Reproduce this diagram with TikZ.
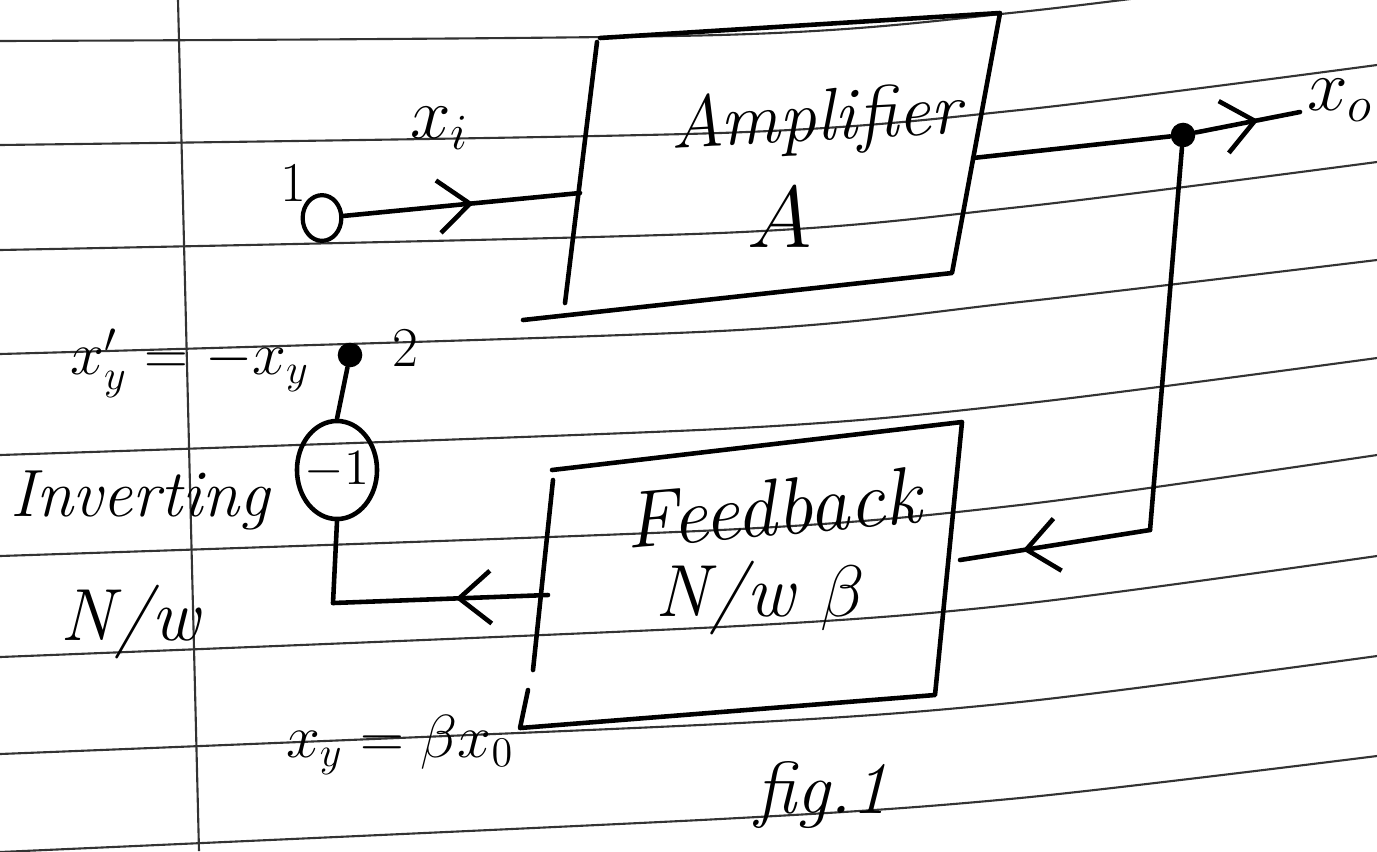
\documentclass[tikz,border=0pt]{standalone}
\usepackage{fontspec}
\usetikzlibrary{arrows.meta,decorations.markings,shapes.geometric}
\tikzset{
  rule/.style={line width=0.6pt, black!80},
  wire/.style={line width=1.3pt, line cap=round, line join=round},
  midarrow/.style={postaction={decorate}, decoration={markings,
      mark=at position #1 with {\arrow[line width=1.3pt]{Straight Barb[length=9pt,width=15pt]}}}},
  hand/.style={font=\fontsize{21}{25}\selectfont\itshape, inner sep=0pt},
  handm/.style={font=\fontsize{21}{25}\selectfont, inner sep=0pt},
  dotpt/.style={circle, fill=black, inner sep=0pt, minimum size=7pt},
}
\begin{document}
\begin{tikzpicture}[x=0.01cm,y=-0.01cm]
\useasboundingbox (0,0) rectangle (1377,851);
\clip (0,0) rectangle (1377,851);
\fill[white] (0,0) rectangle (1377,851);
% ruled notebook lines
\foreach \a/\b/\c/\d in {41/35/12/-33, 145/133/110/65, 250/233/207/162, 354/331/302/260,
  455/429/404/358, 556/530/505/455, 657/627/604/556, 754/724/702/656, 852/819/798/756}
  \draw[rule] plot[smooth] coordinates {(0,\a) (720,\b) (1020,\c) (1377,\d)};
% margin line
\draw[rule] (178,0) -- (199,851);

% Amplifier box
\coordinate (a1) at (600,38);
\coordinate (a2) at (1000,13);
\coordinate (a3) at (952,273);
\coordinate (a4) at (523,320);
\coordinate (al1) at (597,42);
\coordinate (al2) at (565,303);
\draw[wire] (a1) -- (a2) -- (a3) -- (a4);
\draw[wire] (al1) -- (al2);
\node[hand, rotate=3] (amp) at (816,122) {Amplifier};
\node[handm] (ampA) at (780,218) {\fontsize{24}{28}\selectfont$A$};

% input
\node[draw, ellipse, line width=1.2pt, minimum width=11pt, minimum height=13pt, inner sep=0pt] (in) at (322,218) {};
\coordinate (ampin) at (580,193);
\draw[wire, midarrow=0.55] (in) -- (ampin);
\node[handm] (lab1) at (293,183) {\fontsize{16}{18}\selectfont 1};
\node[handm] (xi) at (440,128) {$x_i$};

% output
\coordinate (ampout) at (973,158);
\node[dotpt] (tap) at (1183,135) {};
\coordinate (xoend) at (1300,112);
\draw[wire] (ampout) -- (tap);
\draw[wire, midarrow=0.6] (tap) -- (xoend);
\node[handm, anchor=east] (xo) at (1374,100) {$x_o$};

% feedback path
\coordinate (corner) at (1150,530);
\coordinate (fbin) at (960,560);
\draw[wire] (tap) -- (corner);
\draw[wire, midarrow=0.67] (corner) -- (fbin);

% Feedback box
\coordinate (f1) at (552,470);
\coordinate (f2) at (962,422);
\coordinate (f3) at (935,695);
\coordinate (f4) at (520,728);
\coordinate (f5) at (528,690);
\coordinate (fl1) at (553,480);
\coordinate (fl2) at (533,670);
\draw[wire] (f1) -- (f2) -- (f3) -- (f4) -- (f5);
\draw[wire] (fl1) -- (fl2);
\node[hand, rotate=5, font=\fontsize{23}{27}\selectfont\itshape] (fb) at (773,508) {Feedback};
\node[hand] (fbnw) at (760,598) {N/w $\beta$};

% inverting network
\node[draw, ellipse, line width=1.3pt, minimum width=0.8cm, minimum height=0.98cm, inner sep=0pt] (inv) at (337,470) {};
\node[handm, font=\fontsize{14}{17}\selectfont] (invtxt) at (inv.center) {$-1$};
\coordinate (fbout) at (548,595);
\coordinate (bend) at (333,603);
\draw[wire, midarrow=0.43] (fbout) -- (bend);
\draw[wire] (bend) -- (inv.south);
\node[dotpt] (out2) at (350,355) {};
\draw[wire] (inv.north) -- (out2);
\node[handm] (lab2) at (405,348) {\fontsize{16}{18}\selectfont 2};
\node[handm, font=\fontsize{17}{20}\selectfont] (xyp) at (190,363) {$x_y' = -x_y$};
\node[hand, font=\fontsize{19}{23}\selectfont\itshape] (invlab) at (140,500) {Inverting};
\node[hand] (invnw) at (130,622) {N/w};
\node[handm, font=\fontsize{18}{21}\selectfont] (xy) at (400,745) {$x_y = \beta x_0$};
\node[hand] (fig) at (822,795) {fig.1};
\end{tikzpicture}
\end{document}
